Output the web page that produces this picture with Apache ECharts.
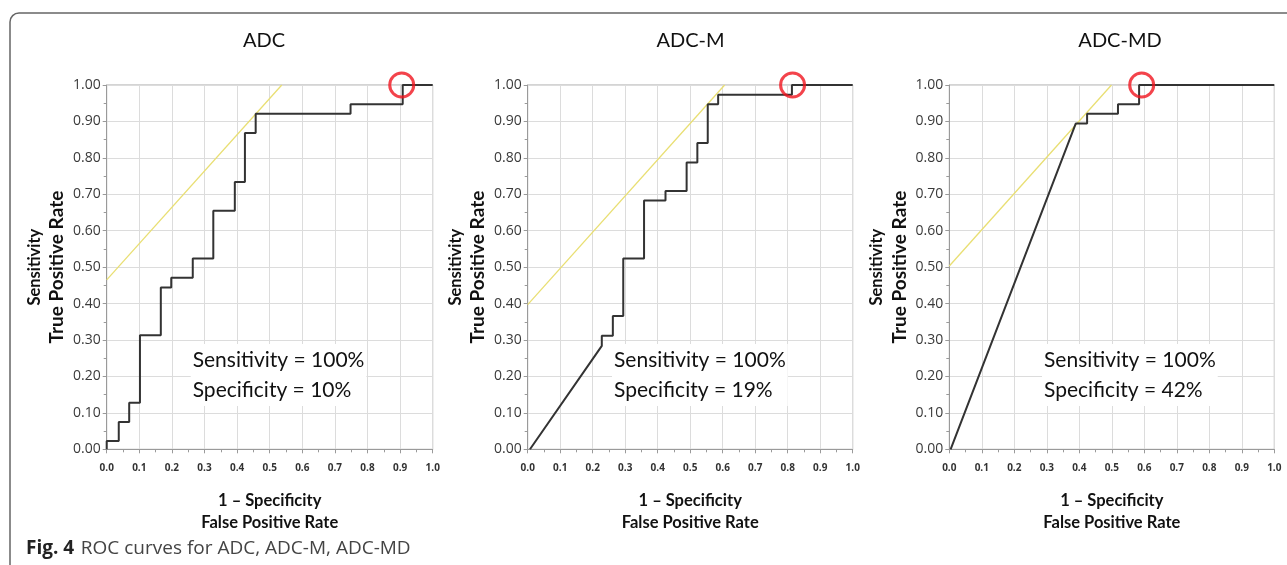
<!DOCTYPE html>
<html>
<head>
<meta charset="utf-8">
<script src="https://cdn.jsdelivr.net/npm/echarts@6/dist/echarts.min.js"></script>
<style>
html,body{margin:0;padding:0;background:#fff;}
#chart{width:1287px;height:565px;}
</style>
</head>
<body>
<div id="chart"></div>
<script>
// ---- data ----
const panelTitles = ['ADC', 'ADC-M', 'ADC-MD'];
const specificityTexts = ['10%', '19%', '42%'];
const sensitivityTexts = ['100%', '100%', '100%'];

// ROC curve vertices [FPR, TPR]
const rocADC = [[0,0],[0,0.023],[0.037,0.023],[0.037,0.075],[0.069,0.075],[0.069,0.128],[0.102,0.128],[0.102,0.313],[0.166,0.313],[0.166,0.444],[0.198,0.444],[0.198,0.471],[0.264,0.471],[0.264,0.524],[0.327,0.524],[0.327,0.655],[0.393,0.655],[0.393,0.734],[0.424,0.734],[0.424,0.868],[0.457,0.868],[0.457,0.921],[0.748,0.921],[0.748,0.947],[0.908,0.947],[0.908,1],[1,1]];
const rocADCM = [[0.007,0],[0.228,0.284],[0.228,0.312],[0.262,0.312],[0.262,0.366],[0.294,0.366],[0.294,0.524],[0.358,0.524],[0.358,0.683],[0.424,0.683],[0.424,0.709],[0.489,0.709],[0.489,0.787],[0.522,0.787],[0.522,0.841],[0.554,0.841],[0.554,0.947],[0.586,0.947],[0.586,0.973],[0.813,0.973],[0.813,1],[1,1]];
const rocADCMD = [[0.004,0],[0.389,0.894],[0.424,0.894],[0.424,0.921],[0.519,0.921],[0.519,0.947],[0.584,0.947],[0.584,1],[1,1]];

// tangent (yellow) lines
const tangentADC = [[0,0.465],[0.537,1]];
const tangentADCM = [[0,0.397],[0.606,1]];
const tangentADCMD = [[0,0.503],[0.499,1]];

// chosen cut-off points (red circles)
const cutADC = [[0.905,1]];
const cutADCM = [[0.815,1]];
const cutADCMD = [[0.592,1]];

const rocs = [rocADC, rocADCM, rocADCMD];
const tangents = [tangentADC, tangentADCM, tangentADCMD];
const cuts = [cutADC, cutADCM, cutADCMD];

// ---- layout ----
const gridLefts = [106.7, 527.7, 949.3];
const gridWidths = [326, 325, 325];
const gridTop = 85, gridHeight = 364.3;
const titleX = [264, 690.5, 1120];
const annotX = [192.7, 614, 1044];

const chart = echarts.init(document.getElementById('chart'), null, {renderer: 'canvas'});

const grids = [], xAxes = [], yAxes = [], series = [], graphics = [];
const axisGray = '#9a9a9a';

for (let i = 0; i < 3; i++) {
  grids.push({left: gridLefts[i], top: gridTop, width: gridWidths[i], height: gridHeight,
    show: true, borderColor: '#a8a8a8', borderWidth: 1, backgroundColor: 'transparent'});
  xAxes.push({
    gridIndex: i, type: 'value', min: 0, max: 1, interval: 0.1,
    axisLine: {show: true, onZero: false, lineStyle: {color: axisGray, width: 1}},
    axisTick: {show: true, length: 4, lineStyle: {color: axisGray}},
    minorTick: {show: true, splitNumber: 2, length: 3, lineStyle: {color: axisGray}},
    splitLine: {show: true, lineStyle: {color: '#dcdcdc', width: 1}},
    axisLabel: {formatter: v => v.toFixed(1), fontFamily: 'Open Sans', fontWeight: 'bold', fontSize: 10, color: '#333', margin: 14},
    name: '1 – Specificity\nFalse Positive Rate', nameLocation: 'middle', nameGap: 40,
    nameTextStyle: {fontFamily: 'Lato', fontWeight: 'bold', fontSize: 16.5, lineHeight: 22, color: '#111'}
  });
  yAxes.push({
    gridIndex: i, type: 'value', min: 0, max: 1, interval: 0.1,
    axisLine: {show: true, onZero: false, lineStyle: {color: axisGray, width: 1}},
    axisTick: {show: true, length: 4, lineStyle: {color: axisGray}},
    minorTick: {show: true, splitNumber: 2, length: 3, lineStyle: {color: axisGray}},
    splitLine: {show: true, lineStyle: {color: '#dcdcdc', width: 1}},
    axisLabel: {formatter: v => v.toFixed(2), fontFamily: 'Open Sans', fontSize: 14, color: '#3a3a3a', margin: 6},
    name: '{s|Sensitivity}\n{t|True Positive Rate}', nameLocation: 'middle', nameGap: 38, nameRotate: 90,
    nameTextStyle: {color: '#111', rich: {
      s: {fontFamily: 'Lato', fontWeight: 'bold', fontSize: 16.5, lineHeight: 23, color: '#111'},
      t: {fontFamily: 'Lato', fontWeight: 'bold', fontSize: 19, lineHeight: 23, color: '#111'}
    }}
  });
  series.push({
    type: 'line', xAxisIndex: i, yAxisIndex: i, data: tangents[i], showSymbol: false, symbol: 'none',
    lineStyle: {color: '#e9df73', width: 1.3}, z: 2, silent: true, animation: false
  });
  series.push({
    type: 'line', xAxisIndex: i, yAxisIndex: i, data: rocs[i], showSymbol: false, symbol: 'none',
    lineStyle: {color: '#333', width: 2}, z: 3, silent: true, animation: false, clip: false
  });
  series.push({
    type: 'scatter', xAxisIndex: i, yAxisIndex: i, data: cuts[i], symbol: 'circle', symbolSize: 24,
    itemStyle: {color: 'rgba(0,0,0,0)', borderColor: '#f0141e', borderWidth: 3},
    z: 4, silent: true, animation: false, clip: false
  });
  graphics.push({type: 'text', x: titleX[i], y: 41, style: {text: panelTitles[i], font: '20px Lato', fill: '#111', align: 'center', verticalAlign: 'middle'}});
  graphics.push({type: 'text', x: annotX[i] - 2, y: 344, z: 1, style: {
    text: 'Sensitivity = ' + sensitivityTexts[i] + '\nSpecificity = ' + specificityTexts[i],
    font: '21px Lato', lineHeight: 30, fill: '#111', align: 'left', verticalAlign: 'top',
    backgroundColor: '#fff', padding: [1, 2, 1, 2]}});
}

// frame
graphics.push({type: 'rect', shape: {x: 10, y: 13, width: 1400, height: 700, r: 9}, style: {fill: 'none', stroke: '#666', lineWidth: 1.5}, z: 0});
// caption
graphics.push({type: 'text', x: 26, y: 549, style: {
  text: '{b|Fig. 4}  {r|ROC curves for ADC, ADC-M, ADC-MD}', verticalAlign: 'middle', align: 'left',
  rich: {b: {font: 'bold 19px "Open Sans"', fill: '#222'}, r: {font: '19px "Open Sans"', fill: '#444'}}
}});

chart.setOption({
  animation: false,
  backgroundColor: '#fff',
  grid: grids, xAxis: xAxes, yAxis: yAxes, series: series, graphic: graphics
});
</script>
</body>
</html>
